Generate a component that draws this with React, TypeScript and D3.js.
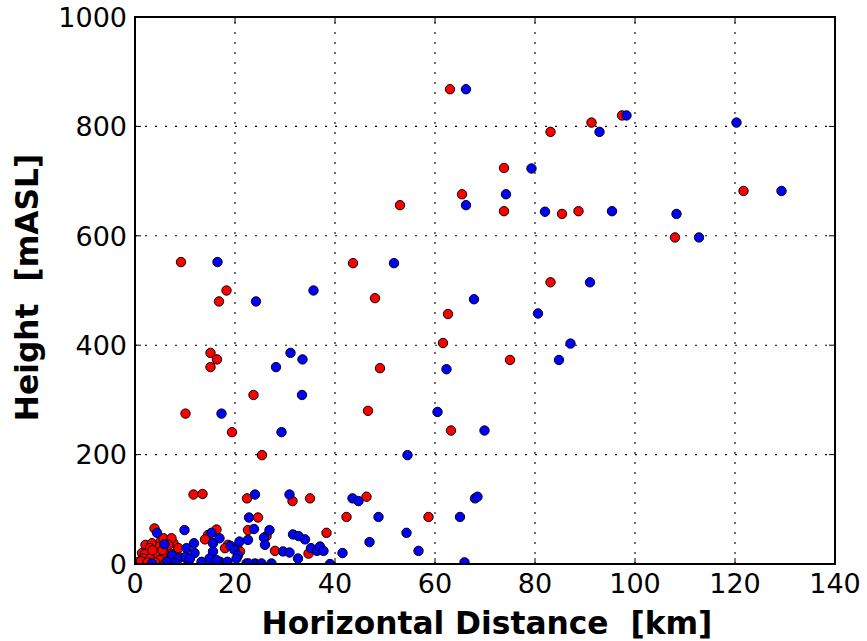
import React from "react";
import * as d3 from "d3";

const xTicks = [0, 20, 40, 60, 80, 100, 120, 140];
const yTicks = [0, 200, 400, 600, 800, 1000];

const redX = [63, 91.3, 83.1, 97.4, 73.8, 65.4, 53, 73.8, 85.4, 88.7, 121.7, 108, 9.2, 43.6, 18.3, 16.8, 48, 83.1, 62.6, 61.6, 15.1, 16.4, 15.1, 49, 75, 10.1, 23.7, 19.4, 25.4, 46.6, 63.2,
  11.7, 13.5, 22.4, 35, 31.5, 46.3, 24.6, 42.3, 58.7, 38.3, 22.6, 26.3, 28, 34.7, 16.3, 14.6, 14, 18.6, 18, 20.7, 21,
  3.9, 2.1, 3.4, 5.1, 6.7, 7.7, 1.4, 3.1, 4.7, 6.4, 8.1, 2.4, 4.1, 5.7, 0.7, 8.7, 5.7, 7.3, 3, 5, 6.7, 2, 4, 6, 1.7, 3, 5, 7, 1.2, 2.5, 4, 6, 3.5, 5.5, 7.5, 9];
const redY = [868, 807, 790, 820, 724, 676, 656, 645, 640, 645, 682, 597, 552, 550, 500, 480, 486, 515, 457, 404, 386, 374, 360, 358, 373, 275, 309, 241, 199, 280, 244,
  127, 128, 120, 120, 115, 123, 85, 86, 86, 57, 62, 51, 24, 19, 63, 53, 45, 35, 29, 26, 23,
  65, 35, 38, 41, 44, 38, 20, 23, 20, 23, 20, 7, 8.5, 7, 4, 29, 47, 47, 29, 32, 35, 18, 19, 18, 10, 10, 7, 10, 5, 3, 3, 1, 25, 25, 15, 12];

const blueX = [66.2, 92.9, 98.3, 120.3, 79.3, 74.2, 66.2, 82, 95.4, 108.3, 112.8, 129.3, 16.5, 51.8, 24.2, 35.7, 67.8, 91, 80.6, 87.1, 84.8, 31.1, 33.5, 28.2, 62.3, 33.4, 17.3, 29.3, 60.5, 69.9, 54.5,
  24, 30.9, 43.5, 44.7, 68, 68.5, 22.8, 48.7, 65, 54.3, 46.9, 56.7, 65.9, 41.5, 23.8, 26.9, 25.8, 26, 31.6, 32.7, 34, 29.6, 30.9, 32.6, 35.2, 36.4, 37, 37.7, 22.3, 24, 25.3, 27.3, 39,
  4.4, 9.9, 5.9, 11.8, 10.3, 15.3, 15.6, 16.9, 20.9, 19.1, 19.9, 20.6, 22.7, 11.9, 15.6, 14.9, 13.3, 17, 18.5, 7.4, 8.7, 10.1, 6.4, 8.1, 10.7, 3.4, 11, 16.3, 20.3, 22.6];
const blueY = [868, 790, 820, 807, 723, 676, 656, 644, 645, 640, 597, 682, 552, 550, 480, 500, 484, 515, 458, 403, 373, 386, 374, 360, 356, 309, 275, 241, 278, 244, 199,
  127, 127, 120, 115, 120, 123, 85, 86, 86, 57, 40, 24, 3, 20, 64, 62, 48, 35, 54, 51, 45, 23, 21, 10, 29, 24, 32, 24, 1, 1, 1, 1, 0,
  57, 62, 36, 38, 29, 57, 38, 47, 41, 33, 26, 16, 1, 20, 23, 10, 4, 4, 4, 16, 10, 13, 4, 1, 4, 1, 10, 7, 10, 44];

const W = 867, H = 641;
const L = 135, R = 835, T = 17, B = 564;

export default function App() {
  const x = d3.scaleLinear().domain([0, 140]).range([L, R]);
  const y = d3.scaleLinear().domain([0, 1000]).range([B, T]);
  const font = "DejaVu Sans, sans-serif";
  const tickLen = 6;
  return (
    <svg width={W} height={H} style={{ position: "absolute", left: 0, top: 0, background: "#fff" }}>
      <defs>
        <clipPath id="plot">
          <rect x={L} y={T} width={R - L} height={B - T} />
        </clipPath>
      </defs>
      <rect x={0} y={0} width={W} height={H} fill="#fff" />
      <g stroke="#000" strokeWidth={1.1} strokeDasharray="2,8">
        {xTicks.slice(1, -1).map((t) => (
          <line key={"gx" + t} x1={x(t)} x2={x(t)} y1={B} y2={T} />
        ))}
        {yTicks.slice(1, -1).map((t) => (
          <line key={"gy" + t} x1={L} x2={R} y1={y(t)} y2={y(t)} />
        ))}
      </g>
      <g stroke="#000" strokeWidth={1}>
        {xTicks.map((t) => (
          <g key={"tx" + t}>
            <line x1={x(t)} x2={x(t)} y1={B} y2={B - tickLen} />
            <line x1={x(t)} x2={x(t)} y1={T} y2={T + tickLen} />
          </g>
        ))}
        {yTicks.map((t) => (
          <g key={"ty" + t}>
            <line x1={L} x2={L + tickLen} y1={y(t)} y2={y(t)} />
            <line x1={R} x2={R - tickLen} y1={y(t)} y2={y(t)} />
          </g>
        ))}
      </g>
      <g clipPath="url(#plot)" stroke="#000" strokeWidth={1}>
        {redX.map((v, i) => (
          <circle key={"r" + i} cx={x(v)} cy={y(redY[i])} r={4.7} fill="#ff0000" />
        ))}
        {blueX.map((v, i) => (
          <circle key={"b" + i} cx={x(v)} cy={y(blueY[i])} r={4.7} fill="#0000ff" />
        ))}
      </g>
      <rect x={L} y={T} width={R - L} height={B - T} fill="none" stroke="#000" strokeWidth={2} />
      <g fontFamily={font} fontSize={27} fill="#000">
        {xTicks.map((t) => (
          <text key={"lx" + t} x={x(t)} y={B + 29} textAnchor="middle">{t}</text>
        ))}
        {yTicks.map((t) => (
          <text key={"ly" + t} x={L - 8} y={y(t)} dy="0.36em" textAnchor="end">{t}</text>
        ))}
      </g>
      <text x={(L + R) / 2 + 2} y={634} textAnchor="middle" fontFamily={font} fontWeight="bold" fontSize={31.3} style={{ whiteSpace: "pre" }}>
        {"Horizontal Distance  [km]"}
      </text>
      <text transform={`translate(38, ${(T + B) / 2 - 3}) rotate(-90)`} textAnchor="middle" fontFamily={font} fontWeight="bold" fontSize={31.3} style={{ whiteSpace: "pre" }}>
        {"Height  [mASL]"}
      </text>
    </svg>
  );
}
